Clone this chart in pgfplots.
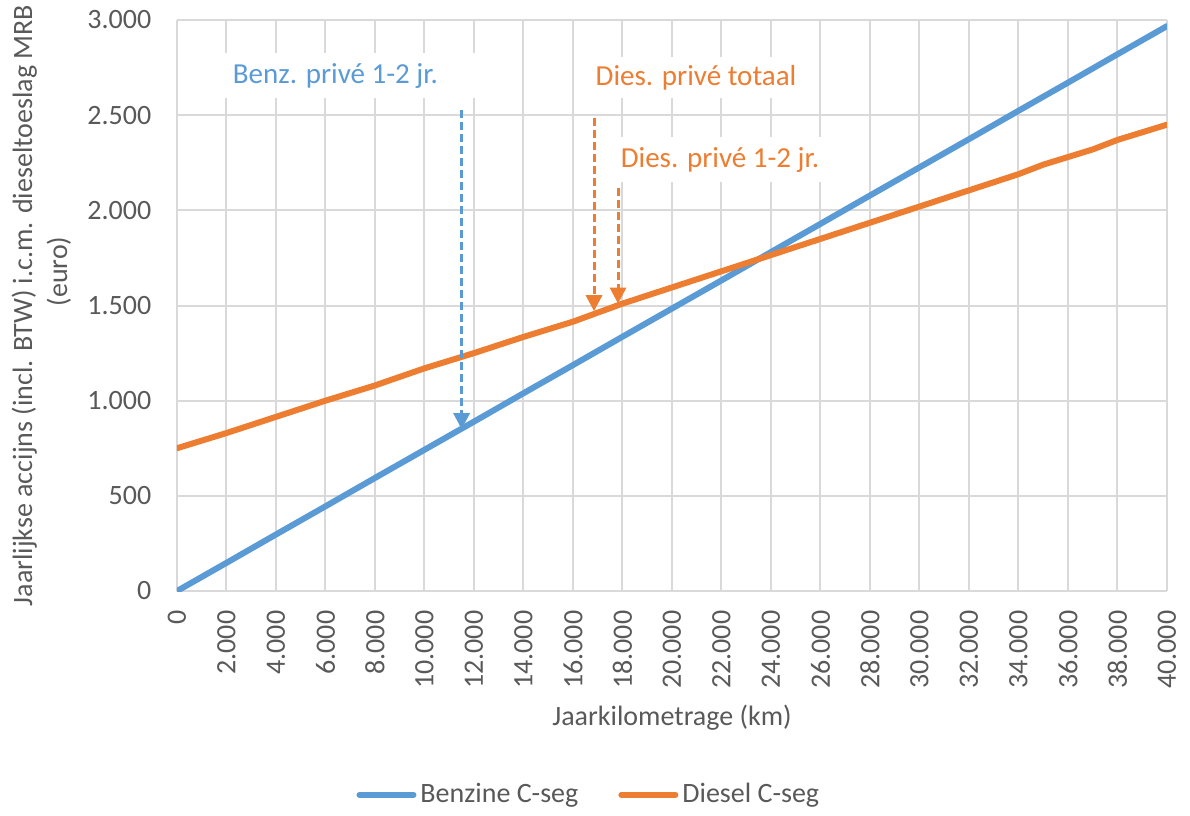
\documentclass[border=0pt]{standalone}
\usepackage{pgfplots}
\pgfplotsset{compat=1.18}
\usepackage{fontspec}
\setmainfont{Carlito}
\usetikzlibrary{arrows.meta}

\definecolor{benz}{HTML}{5B9BD5}
\definecolor{dies}{HTML}{ED7D31}
\definecolor{gridc}{HTML}{D9D9D9}
\definecolor{txt}{HTML}{595959}

\begin{document}
\fontsize{14}{17.5}\selectfont
\begin{tikzpicture}
\begin{axis}[
    scale only axis,
    width=495pt, height=285.5pt,
    xmin=0, xmax=40000,
    ymin=0, ymax=3000,
    xtick={0,2000,...,40000},
    ytick={0,500,...,3000},
    scaled ticks=false,
    /pgf/number format/.cd, 1000 sep={.}, assume math mode=true, /pgfplots/.cd,
    grid=major,
    major grid style={gridc, line width=1pt},
    axis line style={gridc, line width=1pt},
    tick style={draw=none},
    axis x line*=bottom, axis y line*=left,
    xticklabel style={yshift=-5pt, rotate=90, anchor=east, text=txt, font=\fontsize{14}{17}\selectfont},
    yticklabel style={text=txt, xshift=-8pt, font=\fontsize{14}{17}\selectfont},
    xlabel={Jaarkilometrage (km)},
    ylabel={Jaarlijkse accijns (incl. BTW) i.c.m. dieseltoeslag MRB\\\hspace*{34pt}(euro)},
    xlabel style={at={(axis description cs:0.5,-0.222)}, anchor=center, text=txt},
    ylabel style={at={(axis description cs:-0.137,0.5)}, anchor=center, align=center, text=txt},
    legend columns=2,
    legend style={at={(axis description cs:0.417,-0.357)}, anchor=center, draw=none,
        text=txt, font=\fontsize{14}{17}\selectfont,
        /tikz/every even column/.append style={column sep=18pt}},
    legend image code/.code={\draw[#1, line width=3pt, line cap=round] (0pt,0pt) -- (27pt,0pt);},
]
\node[fill=white, inner xsep=23pt, inner ysep=5pt, text=benz, font=\fontsize{14.5}{17}\selectfont] at (axis cs:6400,2706) {Benz. privé 1-2 jr.};
\node[fill=white, inner xsep=10pt, inner ysep=4pt, text=dies, font=\fontsize{14.5}{17}\selectfont] at (axis cs:20970,2696) {Dies. privé totaal};
\node[fill=white, inner xsep=8pt, inner ysep=5pt, text=dies, font=\fontsize{14.5}{17}\selectfont] at (axis cs:21940,2265) {Dies. privé 1-2 jr.};

\addplot[benz, line width=3pt, line cap=round] coordinates {
(0,0)(2000,148)(4000,297)(6000,445)(8000,594)(10000,742)(12000,890)(14000,1039)
(16000,1187)(18000,1336)(20000,1484)(22000,1632)(24000,1781)(26000,1929)
(28000,2078)(30000,2226)(32000,2374)(34000,2523)(36000,2671)(38000,2820)(40000,2968)
};
\addlegendentry{Benzine C-seg}
\addplot[dies, line width=3pt, line cap=round] coordinates {
(0,750)(2000,830)(4000,915)(6000,1000)(8000,1080)(9000,1125)(10000,1170)(12000,1250)
(14000,1335)(16000,1415)(18000,1510)(20000,1595)(22000,1680)(24000,1765)(26000,1850)
(28000,1935)(30000,2020)(32000,2105)(34000,2190)(35000,2240)(36000,2280)(37000,2320)
(38000,2370)(40000,2450)
};
\addlegendentry{Diesel C-seg}

\addplot[benz, line width=1.5pt, dash pattern=on 4pt off 2pt, -{Triangle[width=8pt,length=8pt]}, forget plot]
  coordinates {(11500,2527)(11500,850)};
\addplot[dies, line width=1.5pt, dash pattern=on 4pt off 2pt, -{Triangle[width=8pt,length=8pt]}, forget plot]
  coordinates {(16850,2485)(16850,1470)};
\addplot[dies, line width=1.5pt, dash pattern=on 4pt off 2pt, -{Triangle[width=8pt,length=8pt]}, forget plot]
  coordinates {(17820,2118)(17820,1510)};
\end{axis}
\pgfresetboundingbox
\path (-88.5pt,-112pt) rectangle (506.5pt,295.5pt);
\end{tikzpicture}
\end{document}
